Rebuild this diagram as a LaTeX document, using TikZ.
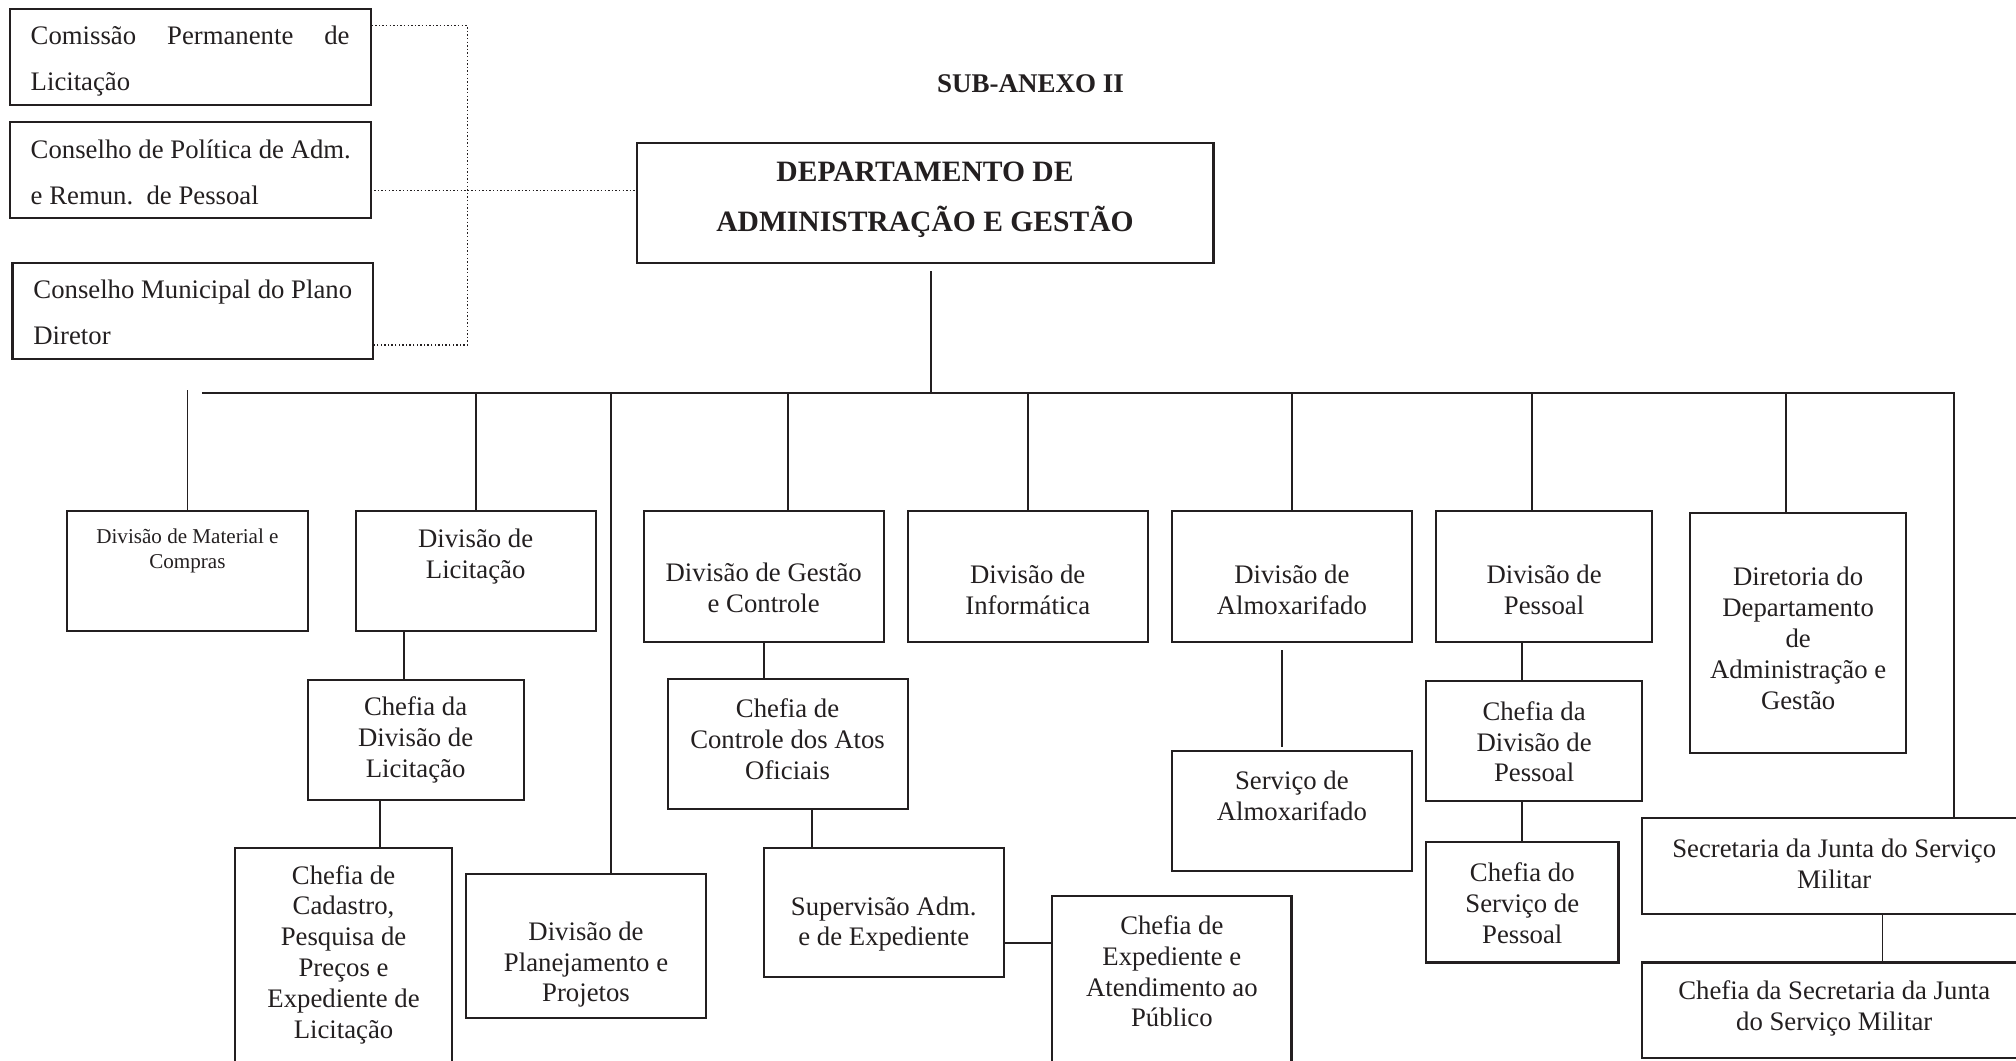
\documentclass[tikz,border=0pt]{standalone}
\usepackage{fontspec}
\setmainfont{Liberation Serif}
\definecolor{ink}{RGB}{35,31,32}
\newcommand\obox[8]{%
  \pgfmathsetmacro\cxx{(#2+#4)/2}%
  \pgfmathsetmacro\cyy{(#3+#5)/2}%
  \pgfmathsetmacro\ww{(#4-#2)*0.5}%
  \pgfmathsetmacro\hh{(#5-#3)*0.5}%
  \pgfmathsetmacro\ys{(\cyy-#6-2.3)*0.5}%
  \node[bx, minimum width=\ww pt, minimum height=\hh pt,
        label={[name=#1-t,#7,yshift=\ys pt]center:{#8}}] (#1) at (\cxx,\cyy) {};%
}
\tikzset{
  bx/.style={draw=ink, line width=0.8pt, inner sep=0pt},
  txt/.style={text=ink, align=center, inner sep=0pt, font=\fontsize{10.4}{12}\selectfont},
  smalltxt/.style={text=ink, align=center, inner sep=0pt, font=\fontsize{8.2}{9.6}\selectfont},
  boldtxt/.style={text=ink, align=center, inner sep=0pt, font=\fontsize{11.5}{19.5}\selectfont\bfseries},
  lefttxt/.style={text=ink, align=left, inner sep=0pt, font=\fontsize{10.4}{17.8}\selectfont},
  conn/.style={draw=ink, line width=0.7pt},
  dotline/.style={draw=ink, line width=0.5pt, dash pattern=on 0.55pt off 0.85pt},
}
\begin{document}
\begin{tikzpicture}[x=0.5pt,y=-0.5pt]
\clip (0,0) rectangle (1568,825);

% title
\node[text=ink, inner sep=0pt, font=\fontsize{10.5}{12}\selectfont\bfseries] (title) at (801.5,64.8) {SUB-ANEXO II};

% top-left councils
\obox{c1}{7.6}{7.3}{288.2}{81.9}{45.35}{lefttxt}{\makebox[124pt][s]{Comissão Permanente de}\\\makebox[124pt][l]{Licitação}}
\obox{c2}{7.6}{95.1}{288.2}{169.8}{131.6}{lefttxt}{\makebox[124pt][l]{Conselho de Política de Adm.}\\\makebox[124pt][l]{e Remun.\ \ de Pessoal}}
\obox{c3}{9.7}{204.3}{290.3}{279}{240.9}{lefttxt}{\makebox[124pt][l]{Conselho Municipal do Plano}\\\makebox[124pt][l]{Diretor}}

% main box
\obox{main}{495.1}{111}{943.8}{204.3}{153.2}{boldtxt}{DEPARTAMENTO DE\\ADMINISTRAÇÃO E GESTÃO}

% lower boxes
\obox{mat}{52.4}{397.7}{239.2}{491}{426.3}{smalltxt}{Divisão de Material e\\Compras}
\obox{lic}{276.7}{397.7}{463.2}{491}{430.5}{txt}{Divisão de\\Licitação}
\obox{chl}{239.2}{528.6}{407.3}{622.2}{573.4}{txt}{Chefia da\\Divisão de\\Licitação}
\obox{cad}{183}{659.8}{351.4}{850}{740.2}{txt}{Chefia de\\Cadastro,\\Pesquisa de\\Preços e\\Expediente de\\Licitação}
\obox{pla}{362.5}{679.7}{549.1}{791.4}{748}{txt}{Divisão de\\Planejamento e\\Projetos}
\obox{ges}{500.6}{397.8}{687.4}{499}{454.7}{txt}{Divisão de Gestão\\e Controle}
\obox{cao}{519.2}{528.4}{705.9}{629.5}{572.8}{txt}{Chefia de\\Controle dos Atos\\Oficiais}
\obox{sup}{594.2}{659.2}{780.6}{760.1}{716.4}{txt}{Supervisão Adm.\\e de Expediente}
\obox{exp}{818.4}{696.7}{1004.5}{850}{753.2}{txt}{Chefia de\\Expediente e\\Atendimento ao\\Público}
\obox{inf}{705.9}{397.8}{892.8}{499}{456.5}{txt}{Divisão de\\Informática}
\obox{alm}{911.5}{397.8}{1098.1}{499}{456.5}{txt}{Divisão de\\Almoxarifado}
\obox{sal}{911.5}{584.3}{1098.1}{677.4}{616.8}{txt}{Serviço de\\Almoxarifado}
\obox{pes}{1117}{397.8}{1284.9}{499}{456.5}{txt}{Divisão de\\Pessoal}
\obox{cdp}{1109.2}{529.8}{1277.2}{623.2}{574.6}{txt}{Chefia da\\Divisão de\\Pessoal}
\obox{csp}{1109.2}{655.2}{1258.8}{748.6}{700.1}{txt}{Chefia do\\Serviço de\\Pessoal}
\obox{dir}{1314.6}{399.3}{1482.5}{585.8}{494.1}{txt}{Diretoria do\\Departamento\\de\\Administração e\\Gestão}
\obox{sec}{1277.2}{636.2}{1576}{711.1}{669.8}{txt}{Secretaria da Junta do Serviço\\Militar}
\obox{csj}{1277.2}{748.6}{1576}{822.9}{782.2}{txt}{Chefia da Secretaria da Junta\\do Serviço Militar}

% dotted links of the councils
\coordinate (dv) at (363.5,20);
\draw[dotline] (c1.east |- dv) -- (dv) -- (363.5,268.3) -- (c3.east |- 0,268.3);
\draw[dotline] ([xshift=1pt]c2.east |- 0,148.3) -- (main.west |- 0,148.3);

% main trunk and bus
\coordinate (mainbot) at (724.4,210.8);
\coordinate (busL) at (157,305.5);
\coordinate (busR) at (1519.5,305.5);
\draw[conn] (mainbot) -- (mainbot |- busL);
\draw[conn] (busL) -- (busR) -- (busR |- sec.north);

% drops from the bus
\draw[conn] (mat.north |- 0,303.5) -- (mat.north);
\draw[conn] (lic.north |- busL) -- (lic.north);
\draw[conn] (475,0 |- busL) -- (475,0 |- pla.north);
\draw[conn] (612.7,0 |- busL) -- (612.7,0 |- ges.north);
\draw[conn] (inf.north |- busL) -- (inf.north);
\draw[conn] (alm.north |- busL) -- (alm.north);
\draw[conn] (1191.3,0 |- busL) -- (1191.3,0 |- pes.north);
\draw[conn] (1389.3,0 |- busL) -- (1389.3,0 |- dir.north);

% sub links
\draw[conn] (314.3,0 |- lic.south) -- (314.3,0 |- chl.north);
\draw[conn] (295.5,0 |- chl.south) -- (295.5,0 |- cad.north);
\draw[conn] (594.2,0 |- ges.south) -- (594.2,0 |- cao.north);
\draw[conn] (631.7,0 |- cao.south) -- (631.7,0 |- sup.north);
\draw[conn] (sup.east |- 0,733.5) -- (exp.west |- 0,733.5);
\coordinate (almA) at (997.3,505.9);
\coordinate (almB) at (997.3,580.9);
\draw[conn] (almA) -- (almB);
\draw[conn] (1184,0 |- pes.south) -- (1184,0 |- cdp.north);
\draw[conn] (1184,0 |- cdp.south) -- (1184,0 |- csp.north);
\draw[conn] (1464.1,0 |- sec.south) -- (1464.1,0 |- csj.north);
\end{tikzpicture}
\end{document}
